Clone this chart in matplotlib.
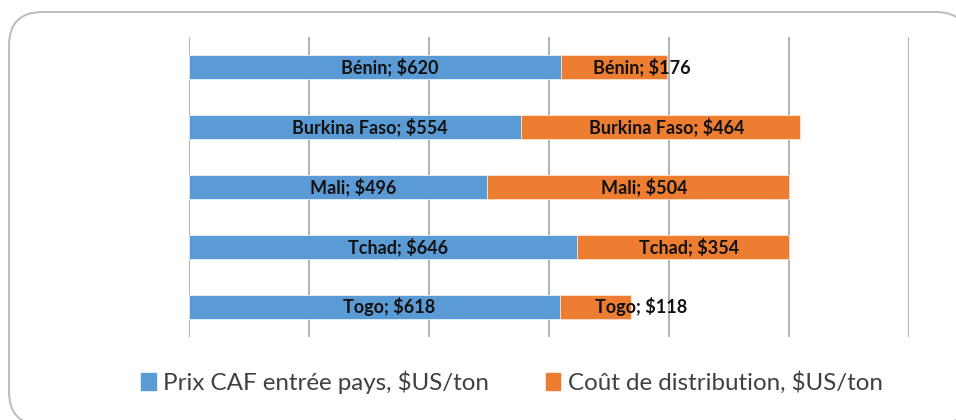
import matplotlib.pyplot as plt
from matplotlib.patches import FancyBboxPatch, Patch
import numpy as np

pays = ["Bénin", "Burkina Faso", "Mali", "Tchad", "Togo"]
prix_caf = [620, 554, 496, 646, 618]
cout_distrib = [176, 464, 504, 354, 118]

BLEU = "#5B9BD5"
ORANGE = "#ED7D31"
W, H = 956, 420

fig = plt.figure(figsize=(W / 100, H / 100), dpi=100)

# cadre arrondi (coupé à droite et en bas comme dans l'original)
cadre = FancyBboxPatch((9 / W, 1 - 425 / H), 960 / W, 413 / H,
                       boxstyle="round,pad=0,rounding_size=0.035",
                       transform=fig.transFigure, facecolor="white",
                       edgecolor="#BFBFBF", linewidth=1.5, mutation_aspect=W / H,
                       zorder=-5)
fig.patches.append(cadre)

ax = fig.add_axes([189 / W, 1 - 337 / H, 720 / W, 300 / H])
ax.set_facecolor("none")

y = np.arange(len(pays))
b1 = ax.barh(y, prix_caf, height=0.4, color=BLEU, edgecolor="#E8F0F8", linewidth=0.6)
b2 = ax.barh(y, cout_distrib, left=prix_caf, height=0.4, color=ORANGE,
             edgecolor="#FBE3D3", linewidth=0.6)

for i, p in enumerate(pays):
    ax.text(prix_caf[i] / 2 + 25, i, f"{p}; ${prix_caf[i]}", ha="center", va="center",
            fontsize=13, fontweight="bold", family="Lato", color="#111111")
    xc = max(prix_caf[i] + cout_distrib[i] / 2 + 10, prix_caf[i] + 135)
    ax.text(xc, i, f"{p}; ${cout_distrib[i]}", ha="center", va="center",
            fontsize=13, fontweight="bold", family="Lato", color="#111111")

ax.set_xlim(0, 1200)
ax.set_ylim(len(pays) - 0.5, -0.5)
ax.set_xticks(np.arange(0, 1201, 200))
ax.xaxis.grid(True, color="#A6A6A6", linewidth=1.2)
ax.set_axisbelow(True)
ax.tick_params(left=False, bottom=False, labelleft=False, labelbottom=False)
for s in ax.spines.values():
    s.set_visible(False)

handles = [Patch(facecolor=BLEU, edgecolor=BLEU),
           Patch(facecolor=ORANGE, edgecolor=ORANGE)]
leg = fig.legend(handles, ["Prix CAF entrée pays, $US/ton", "Coût de distribution, $US/ton"],
                 loc="center", bbox_to_anchor=(512 / W, 1 - 382 / H), ncol=2, frameon=False,
                 prop={"family": "Lato", "size": 17.4}, handlelength=0.6, handleheight=0.7,
                 handletextpad=0.3, columnspacing=2.35)
for t in leg.get_texts():
    t.set_color("#404040")

fig.savefig("out.png", dpi=100)
